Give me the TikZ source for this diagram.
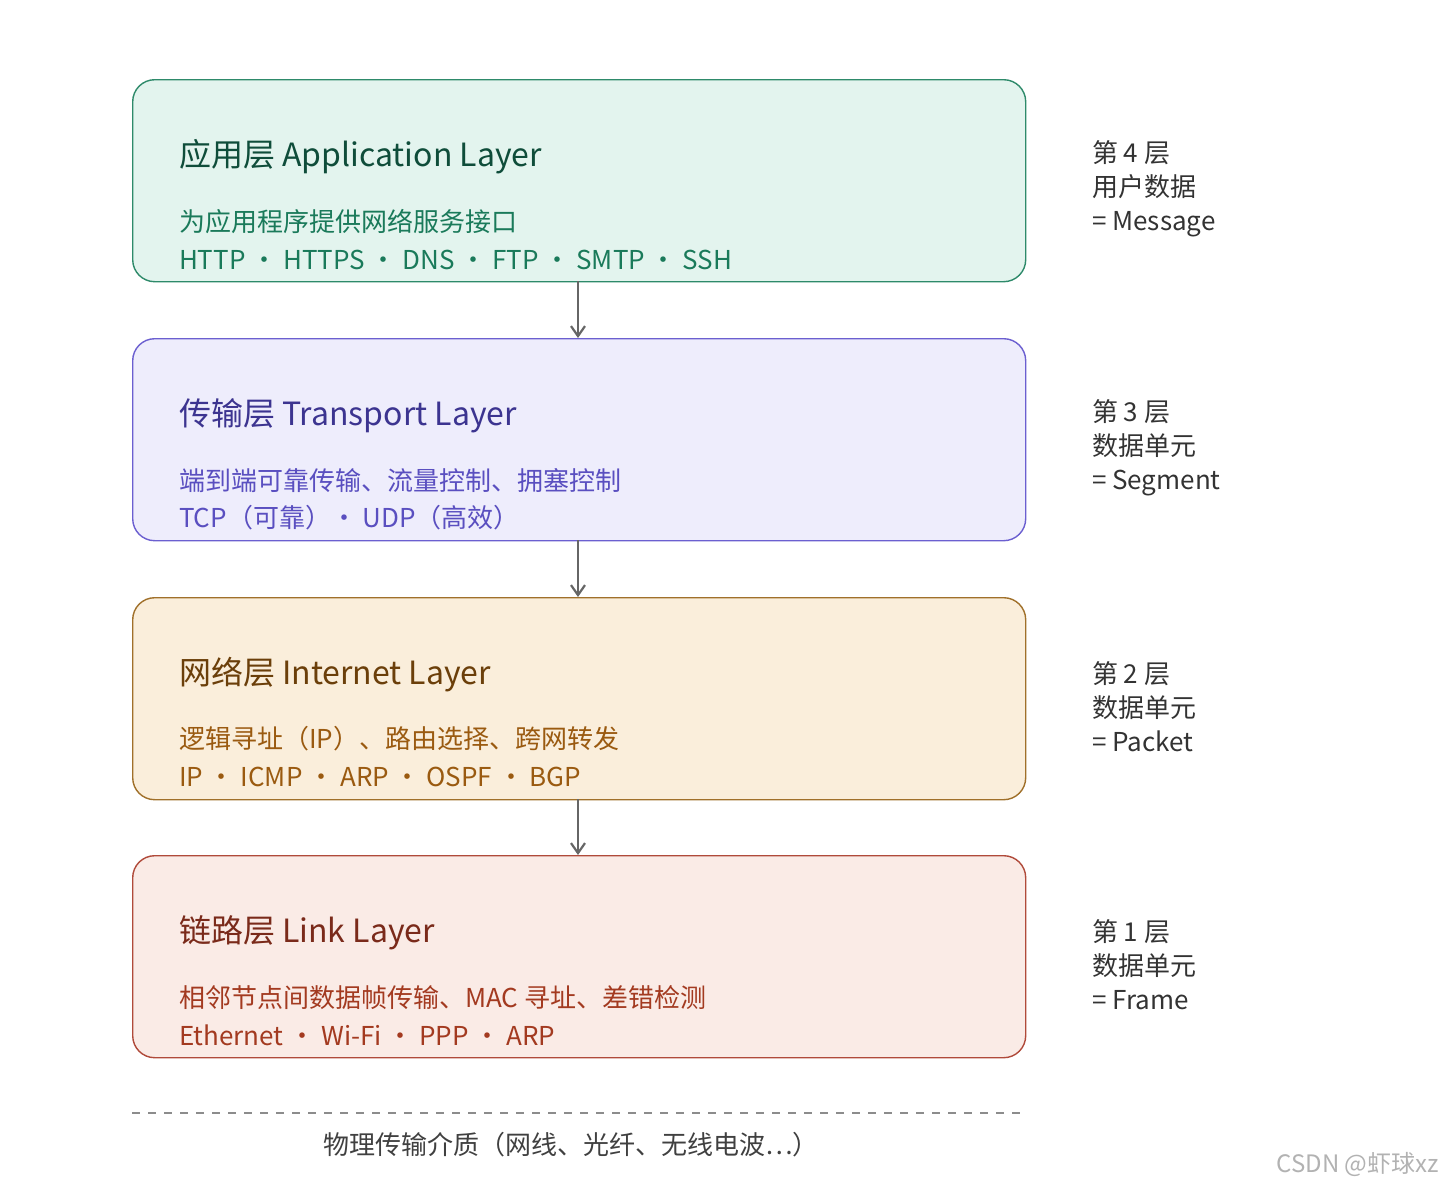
\documentclass[tikz,border=0pt]{standalone}
\usepackage{fontspec}
\setmainfont{Noto Sans CJK SC}
\begin{document}
\begin{tikzpicture}[x=0.5pt,y=-0.5pt,
  box/.style={draw,line width=0.7pt,rounded corners=11pt,minimum width=446.5pt,minimum height=101pt,anchor=north west},
  ttl/.style={anchor=west,font=\fontsize{16}{18}\selectfont},
  txt/.style={anchor=west,font=\fontsize{13}{15}\selectfont},
  side/.style={anchor=west,font=\fontsize{13}{15}\selectfont,text=black!80,align=left},
  arr/.style={draw=black!60,line width=1.1pt,->,>={Straight Barb[length=5pt,width=7pt]}}]
\usetikzlibrary{arrows.meta}
\useasboundingbox (0,0) rectangle (1448,1190);
\definecolor{ga}{HTML}{E3F4EE}\definecolor{gb}{HTML}{2E8A6A}\definecolor{gt}{HTML}{0F4D3A}\definecolor{gx}{HTML}{1A7A5A}
\definecolor{pa}{HTML}{EEEDFC}\definecolor{pb}{HTML}{6B5FD0}\definecolor{pt}{HTML}{3C3490}\definecolor{px}{HTML}{5A4FC0}
\definecolor{oa}{HTML}{FAEEDB}\definecolor{ob}{HTML}{A0702A}\definecolor{ot}{HTML}{6B3F0A}\definecolor{ox}{HTML}{9A5A10}
\definecolor{ra}{HTML}{FAEBE6}\definecolor{rb}{HTML}{B04A3A}\definecolor{rt}{HTML}{7A2A1A}\definecolor{rx}{HTML}{A33A20}
\node[box,fill=ga,draw=gb] (b1) at (132,79) {};
\node[box,fill=pa,draw=pb] (b2) at (132,338) {};
\node[box,fill=oa,draw=ob] (b3) at (132,597) {};
\node[box,fill=ra,draw=rb] (b4) at (132,855) {};
\node[ttl,text=gt] (t1) at (172,157) {应用层 Application Layer};
\node[txt,text=gx] (s1) at (172,222) {为应用程序提供网络服务接口};
\node[txt,text=gx] (p1) at (172,260) {HTTP · HTTPS · DNS · FTP · SMTP · SSH};
\node[ttl,text=pt] (t2) at (172,416) {传输层 Transport Layer};
\node[txt,text=px] (s2) at (172,481) {端到端可靠传输、流量控制、拥塞控制};
\node[txt,text=px] (p2) at (172,518) {TCP（可靠）· UDP（高效）};
\node[ttl,text=ot] (t3) at (172,675) {网络层 Internet Layer};
\node[txt,text=ox] (s3) at (172,739) {逻辑寻址（IP）、路由选择、跨网转发};
\node[txt,text=ox] (p3) at (172,777) {IP · ICMP · ARP · OSPF · BGP};
\node[ttl,text=rt] (t4) at (172,933) {链路层 Link Layer};
\node[txt,text=rx] (s4) at (172,998) {相邻节点间数据帧传输、MAC 寻址、差错检测};
\node[txt,text=rx] (p4) at (172,1035) {Ethernet · Wi-Fi · PPP · ARP};
\draw[arr] (578,281) -- (578,338);
\draw[arr] (578,540) -- (578,597);
\draw[arr] (578,799) -- (578,855);
\node[side] (r1) at (1085,189) {第 4 层\\[2pt]用户数据\\[2pt]= Message};
\node[side] (r2) at (1085,448) {第 3 层\\[2pt]数据单元\\[2pt]= Segment};
\node[side] (r3) at (1085,707) {第 2 层\\[2pt]数据单元\\[2pt]= Packet};
\node[side] (r4) at (1085,965) {第 1 层\\[2pt]数据单元\\[2pt]= Frame};
\coordinate (d1) at (132,1113); \coordinate (d2) at (1025,1113);
\draw[black!45,line width=0.8pt,dash pattern=on 4pt off 4pt] (d1) -- (d2);
\node[font=\fontsize{13}{15}\selectfont,text=black!75] (phy) at (571,1145) {物理传输介质（网线、光纤、无线电波…）};
\node[anchor=east,font=\fontsize{12}{14}\selectfont,text=black!30] (wm) at (1446,1164) {CSDN @虾球xz};
\end{tikzpicture}
\end{document}
